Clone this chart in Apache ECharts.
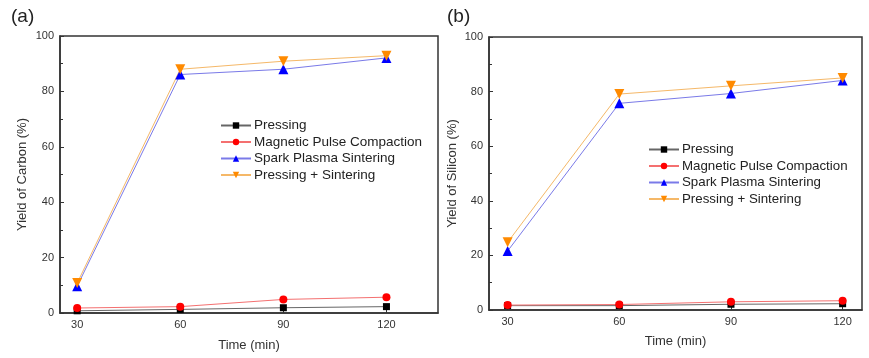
<!DOCTYPE html>
<html><head><meta charset="utf-8">
<script src="https://cdn.jsdelivr.net/npm/echarts@6/dist/echarts.min.js"></script>
<style>html,body{margin:0;padding:0;background:#fff}#c{width:869px;height:358px}</style>
</head><body><div id="c"></div>
<script>
const times = [30, 60, 90, 120];
const xTicks = [30, 60, 90, 120];
const seriesNames = ['Pressing', 'Magnetic Pulse Compaction', 'Spark Plasma Sintering', 'Pressing + Sintering'];
// (a) Yield of Carbon (%)
const carbonPressing = [0.8, 1.3, 1.9, 2.3];
const carbonMPC = [1.8, 2.3, 4.9, 5.7];
const carbonSPS = [9.7, 86.1, 88.0, 92.1];
const carbonPS = [10.8, 88.0, 90.9, 92.9];
// (b) Yield of Silicon (%)
const siliconPressing = [1.6, 1.6, 2.1, 2.3];
const siliconMPC = [1.8, 2.0, 3.0, 3.4];
const siliconSPS = [21.6, 75.7, 79.3, 84.1];
const siliconPS = [24.8, 79.1, 82.1, 85.0];

const styles = [
  {mc:'#000000', lc:'#666666', sym:'rect', size:7, rot:0},
  {mc:'#ff0000', lc:'#f47070', sym:'circle', size:8, rot:0},
  {mc:'#0000ff', lc:'#7a7ae8', sym:'triangle', size:10, rot:0},
  {mc:'#ff8a00', lc:'#f5b868', sym:'triangle', size:10, rot:180}
];
const font = 'Liberation Sans, Arial, sans-serif';
function mk(idx, name, vals, st) {
  return {
    type:'line', name:name, xAxisIndex:idx, yAxisIndex:idx,
    data: times.map((t,i)=>[t, vals[i]]),
    symbol: st.sym, symbolSize: st.size, symbolRotate: st.rot,
    lineStyle:{color:st.lc, width:1},
    itemStyle:{color:st.mc, borderWidth:0},
    emphasis:{disabled:true}, animation:false
  };
}
function xAx(idx, max, gap) {
  return {
    type:'value', gridIndex:idx, min:25, max:max, name:'Time (min)',
    nameLocation:'middle', nameGap:gap,
    nameTextStyle:{fontFamily:font, fontSize:13, color:'#333'},
    axisLine:{lineStyle:{color:'#333', width:1.5}},
    axisTick:{inside:true, length:4, customValues:xTicks, lineStyle:{color:'#333'}},
    axisLabel:{customValues:xTicks, fontFamily:font, fontSize:11, color:'#333', margin:6},
    splitLine:{show:false}
  };
}
function yAx(idx, name, gap) {
  return {
    type:'value', gridIndex:idx, min:0, max:100, interval:20, name:name,
    nameLocation:'middle', nameGap:gap,
    nameTextStyle:{fontFamily:font, fontSize:13, color:'#333'},
    axisLine:{show:true, lineStyle:{color:'#333', width:1.5}},
    axisTick:{inside:true, length:4, lineStyle:{color:'#333'}},
    minorTick:{show:true, splitNumber:2, length:3, lineStyle:{color:'#333'}},
    axisLabel:{fontFamily:font, fontSize:11, color:'#333', margin:6},
    splitLine:{show:false}
  };
}
function lg(left, top, names, fs) {
  return {
    show:true, orient:'vertical', left:left, top:top, itemWidth:30, itemHeight:8,
    itemGap:1.5,
    data: names.map(n=>({name:n})),
    textStyle:{fontFamily:font, fontSize:fs, color:'#222', lineHeight:15, padding:[0,0,0,-2]},
    padding:0, selectedMode:false
  };
}
const chart = echarts.init(document.getElementById('c'), null, {renderer:'canvas'});
const aNames = seriesNames.map(n=>n);
const bNames = seriesNames.map(n=>n+' ');
chart.setOption({
  backgroundColor:'#fff',
  animation:false,
  title:[
    {text:'(a)', left:6, top:2, textStyle:{fontFamily:font, fontSize:19, fontWeight:'normal', color:'#222'}},
    {text:'(b)', left:442, top:2, textStyle:{fontFamily:font, fontSize:19, fontWeight:'normal', color:'#222'}}
  ],
  grid:[
    {left:60, top:36, width:378, height:277, show:true, borderColor:'#333', borderWidth:1.5},
    {left:489, top:37, width:373, height:273, show:true, borderColor:'#333', borderWidth:1.5}
  ],
  xAxis:[xAx(0,135,26), xAx(1,125.2,25)],
  yAxis:[yAx(0,'Yield of Carbon (%)',31), yAx(1,'Yield of Silicon (%)',30)],
  legend:[lg(220,118,aNames,13.5), lg(648,142,bNames,13.3)],
  series:[
    mk(0, aNames[0], carbonPressing, styles[0]),
    mk(0, aNames[1], carbonMPC, styles[1]),
    mk(0, aNames[2], carbonSPS, styles[2]),
    mk(0, aNames[3], carbonPS, styles[3]),
    mk(1, bNames[0], siliconPressing, styles[0]),
    mk(1, bNames[1], siliconMPC, styles[1]),
    mk(1, bNames[2], siliconSPS, styles[2]),
    mk(1, bNames[3], siliconPS, styles[3])
  ]
});
</script></body></html>
